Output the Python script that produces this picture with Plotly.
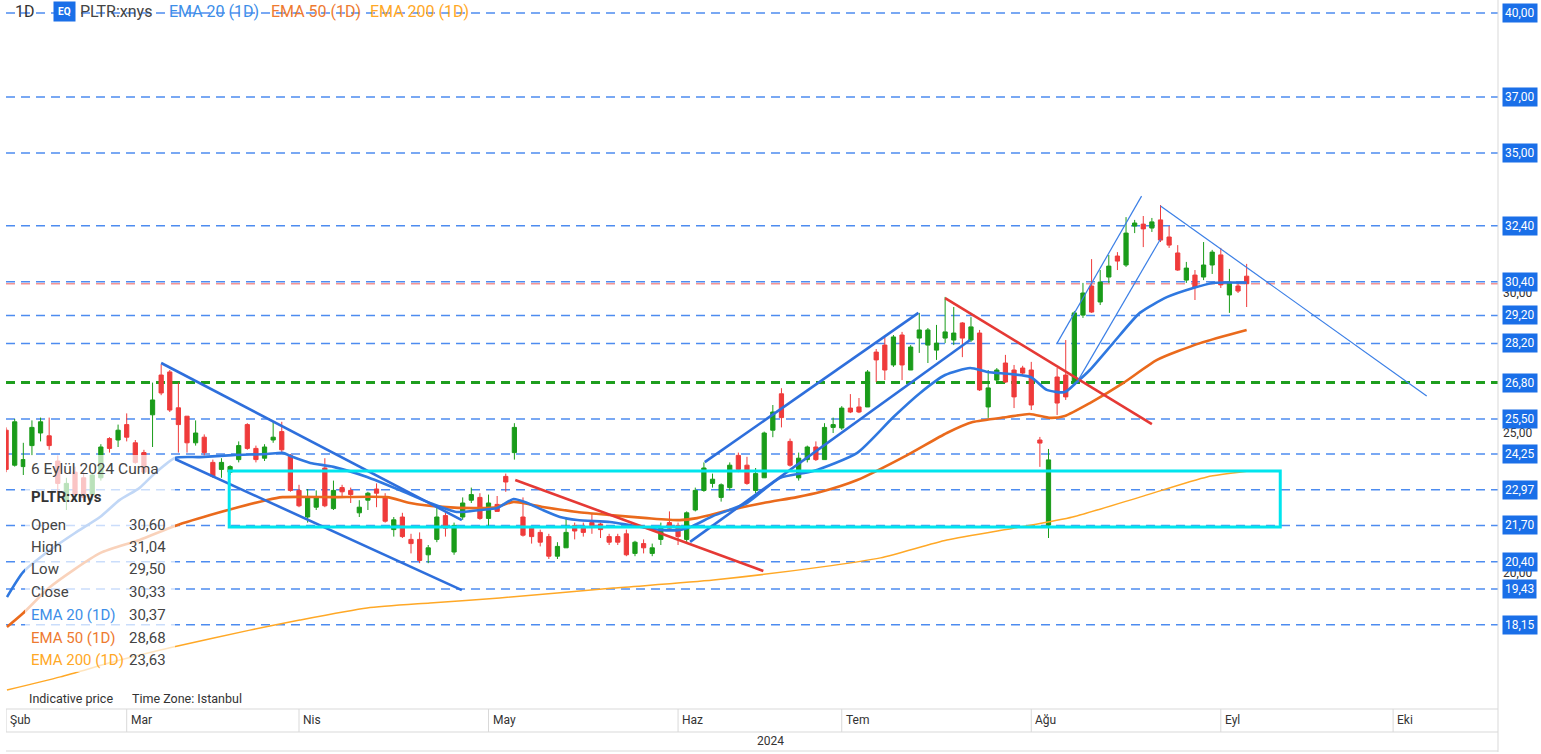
import plotly.graph_objects as go

# ---------------- data ----------------
dates = [
    "2024-02-09", "2024-02-12", "2024-02-13", "2024-02-14", "2024-02-15", "2024-02-16", "2024-02-20",
    "2024-02-21", "2024-02-22", "2024-02-23", "2024-02-26", "2024-02-27", "2024-02-28", "2024-02-29",
    "2024-03-01", "2024-03-04", "2024-03-05", "2024-03-06", "2024-03-07", "2024-03-08", "2024-03-11",
    "2024-03-12", "2024-03-13", "2024-03-14", "2024-03-15", "2024-03-18", "2024-03-19", "2024-03-20",
    "2024-03-21", "2024-03-22", "2024-03-25", "2024-03-26", "2024-03-27", "2024-03-28",
    "2024-04-01", "2024-04-02", "2024-04-03", "2024-04-04", "2024-04-05", "2024-04-08", "2024-04-09",
    "2024-04-10", "2024-04-11", "2024-04-12", "2024-04-15", "2024-04-16", "2024-04-17", "2024-04-18",
    "2024-04-19", "2024-04-22", "2024-04-23", "2024-04-24", "2024-04-25", "2024-04-26", "2024-04-29",
    "2024-04-30",
    "2024-05-01", "2024-05-02", "2024-05-03", "2024-05-06", "2024-05-07", "2024-05-08", "2024-05-09",
    "2024-05-10", "2024-05-13", "2024-05-14", "2024-05-15", "2024-05-16", "2024-05-17", "2024-05-20",
    "2024-05-21", "2024-05-22", "2024-05-23", "2024-05-24", "2024-05-28", "2024-05-29", "2024-05-30",
    "2024-05-31",
    "2024-06-03", "2024-06-04", "2024-06-05", "2024-06-06", "2024-06-07", "2024-06-10", "2024-06-11",
    "2024-06-12", "2024-06-13", "2024-06-14", "2024-06-17", "2024-06-18", "2024-06-20", "2024-06-21",
    "2024-06-24", "2024-06-25", "2024-06-26", "2024-06-27", "2024-06-28",
    "2024-07-01", "2024-07-02", "2024-07-03", "2024-07-05", "2024-07-08", "2024-07-09", "2024-07-10",
    "2024-07-11", "2024-07-12", "2024-07-15", "2024-07-16", "2024-07-17", "2024-07-18", "2024-07-19",
    "2024-07-22", "2024-07-23", "2024-07-24", "2024-07-25", "2024-07-26", "2024-07-29", "2024-07-30",
    "2024-07-31",
    "2024-08-01", "2024-08-02", "2024-08-05", "2024-08-06", "2024-08-07", "2024-08-08", "2024-08-09",
    "2024-08-12", "2024-08-13", "2024-08-14", "2024-08-15", "2024-08-16", "2024-08-19", "2024-08-20",
    "2024-08-21", "2024-08-22", "2024-08-23", "2024-08-26", "2024-08-27", "2024-08-28", "2024-08-29",
    "2024-08-30",
    "2024-09-03", "2024-09-04", "2024-09-05", "2024-09-06",
]

opens = [
    25.10, 23.85, 23.80, 24.55, 25.00, 24.90, 24.00, 22.60, 23.60, 23.40, 22.80, 23.40, 24.80, 24.75,
    25.30, 24.65, 24.30, 25.65, 27.07, 27.18, 25.90, 25.60, 24.65, 24.85, 23.95, 23.70, 23.60, 24.05,
    25.30, 24.45, 24.10, 24.75, 25.05, 24.20,
    22.95, 22.00, 22.35, 23.75, 22.30, 23.05, 22.95, 22.15, 22.60, 23.00, 22.70, 21.55, 22.00, 21.20,
    21.20, 20.65, 21.20, 22.05, 20.75, 22.00, 22.60, 22.70,
    21.95, 22.45, 23.45, 24.30, 22.00, 21.60, 21.45, 21.30, 20.60, 20.90, 21.70, 21.60, 21.80, 21.75,
    21.30, 21.30, 21.40, 20.70, 21.05, 20.70, 21.20, 21.80,
    21.70, 21.20, 22.25, 22.95, 23.20, 22.70, 23.05, 24.20, 23.85, 22.95, 23.40, 25.10, 26.40, 24.70,
    23.40, 24.05, 24.50, 24.05, 25.20,
    25.18, 25.89, 25.93, 25.93, 27.89, 28.14, 27.43, 28.50, 27.25, 28.39, 28.14, 27.96, 28.39, 28.32,
    28.93, 28.32, 28.57, 25.93, 26.89, 27.50, 27.25, 27.32,
    27.25, 24.75, 21.71, 27.00, 27.07, 26.82, 29.21, 30.25, 29.68, 30.57, 31.32, 31.00, 32.39, 32.46,
    32.32, 32.61, 32.00, 31.43, 30.46, 30.64, 30.57, 31.00,
    31.36, 29.93, 30.25, 30.60,
]

highs = [
    25.20, 25.50, 24.65, 25.45, 25.55, 25.55, 24.20, 23.40, 23.80, 23.60, 23.60, 24.60, 24.85, 25.30,
    25.70, 24.75, 24.40, 26.80, 27.45, 27.25, 26.80, 25.60, 25.45, 24.95, 24.05, 24.10, 23.85, 24.70,
    25.35, 24.55, 24.60, 25.40, 25.40, 24.25,
    23.15, 23.00, 22.95, 24.10, 23.30, 23.15, 23.05, 22.60, 22.90, 23.20, 22.85, 22.00, 22.15, 21.40,
    21.45, 21.00, 22.35, 22.15, 21.80, 22.70, 23.05, 22.85,
    22.80, 22.75, 23.55, 25.35, 22.70, 21.65, 21.55, 21.40, 21.10, 22.00, 21.80, 21.80, 22.15, 21.80,
    21.40, 21.40, 21.55, 21.15, 21.20, 21.05, 21.80, 22.20,
    21.80, 22.20, 23.05, 23.95, 23.55, 23.20, 23.95, 24.30, 24.15, 23.75, 25.05, 26.00, 26.60, 24.80,
    24.30, 24.55, 24.70, 25.35, 25.55,
    25.96, 26.39, 26.25, 27.25, 28.00, 28.46, 28.50, 28.61, 28.14, 29.29, 28.75, 28.86, 29.86, 29.50,
    28.96, 29.14, 28.68, 27.25, 27.32, 27.79, 27.43, 27.40,
    27.54, 24.86, 24.43, 27.32, 28.32, 29.36, 30.36, 31.21, 30.82, 31.36, 31.46, 32.71, 32.61, 32.75,
    32.68, 33.14, 32.39, 31.71, 31.11, 30.82, 31.82, 31.54,
    31.61, 30.86, 30.36, 31.04,
]

lows = [
    23.60, 23.80, 23.50, 24.20, 24.70, 24.40, 22.90, 22.25, 22.60, 22.60, 22.60, 23.30, 24.30, 24.50,
    24.70, 23.90, 23.55, 24.50, 26.35, 25.75, 24.30, 24.30, 24.55, 24.20, 23.40, 23.40, 23.50, 23.95,
    24.40, 23.95, 24.00, 24.65, 24.30, 22.90,
    22.35, 21.80, 22.25, 22.35, 22.25, 22.70, 22.50, 22.00, 22.25, 22.35, 21.80, 21.30, 21.25, 20.70,
    20.35, 20.35, 21.10, 21.30, 20.65, 21.90, 22.50, 21.90,
    21.65, 22.20, 22.90, 24.05, 21.30, 21.05, 20.95, 20.50, 20.50, 20.90, 21.20, 21.30, 21.40, 21.25,
    21.00, 21.00, 20.60, 20.60, 20.70, 20.60, 21.00, 21.55,
    21.00, 21.10, 22.20, 22.90, 23.05, 22.55, 22.95, 23.60, 23.15, 22.85, 23.40, 24.85, 25.20, 23.80,
    23.30, 23.95, 24.00, 24.05, 25.00,
    25.11, 25.71, 25.71, 25.93, 26.82, 26.89, 27.36, 26.89, 27.25, 27.86, 27.50, 27.61, 28.21, 28.14,
    27.71, 28.25, 26.50, 25.54, 26.82, 26.79, 25.89, 27.05,
    25.82, 23.79, 21.25, 25.64, 26.18, 26.75, 29.11, 29.29, 29.57, 30.36, 30.82, 30.93, 32.14, 31.64,
    32.18, 31.82, 31.61, 30.79, 30.36, 29.75, 30.46, 30.68,
    30.18, 29.29, 30.00, 29.50,
]

closes = [
    23.70, 25.40, 24.05, 25.20, 25.40, 24.55, 23.20, 23.20, 22.80, 22.70, 23.50, 24.50, 24.45, 25.10,
    24.85, 23.95, 23.60, 26.18, 26.43, 25.82, 25.30, 24.65, 25.00, 24.30, 23.45, 23.95, 23.80, 24.55,
    24.45, 24.05, 24.50, 24.85, 24.40, 22.95,
    22.40, 22.70, 22.70, 22.40, 22.95, 22.90, 22.80, 22.35, 22.85, 22.85, 21.85, 21.90, 21.30, 21.05,
    20.45, 20.90, 22.00, 21.60, 21.70, 22.50, 22.80, 21.95,
    22.50, 22.20, 23.25, 25.20, 21.35, 21.30, 21.10, 20.60, 20.95, 21.45, 21.50, 21.45, 21.65, 21.55,
    21.10, 21.10, 20.65, 21.10, 20.90, 20.90, 21.60, 21.60,
    21.30, 22.15, 22.95, 23.75, 23.35, 23.15, 23.85, 23.70, 23.20, 23.55, 25.00, 25.75, 25.55, 23.85,
    24.10, 24.50, 24.05, 25.20, 25.30,
    25.89, 25.75, 25.75, 27.18, 27.61, 27.25, 28.43, 27.43, 28.07, 28.68, 28.68, 28.21, 28.61, 28.57,
    28.39, 28.79, 26.54, 26.61, 27.25, 26.82, 26.29, 27.14,
    26.00, 24.64, 24.04, 26.07, 26.29, 29.29, 30.00, 29.32, 30.39, 30.96, 31.14, 32.14, 32.50, 32.29,
    32.54, 31.89, 31.71, 30.82, 30.89, 30.21, 31.00, 31.46,
    30.29, 30.39, 30.07, 30.33,
]

# trading-day index relative to 1 March 2024 (first candle = 9 Feb = -14)
first_index = -14

# EMA readings (trading-day index, price)
ema20_x = [-13.9, -12.0, -8.9, -6.0, -3.1, -0.8, 1.5, 3.3, 5.6, 8.5, 12.3, 16.3, 18.1, 19.3, 21.3,
           24.0, 27.9, 31.7, 35.2, 38.3, 41.0, 43.0, 44.9, 46.5, 48.3, 50.3, 52.3, 56.1, 58.4, 61.9,
           64.2, 65.7, 68.1, 72.0, 75.8, 79.7, 84.8, 89.0, 92.1, 95.0, 97.9, 99.9, 104.9, 106.8,
           108.9, 110.3, 111.8, 114.5, 117.6, 120.8, 123.8, 126.1, 130.0]
ema20_y = [19.14, 20.04, 20.82, 21.43, 22.00, 22.61, 23.04, 23.57, 24.11, 24.14, 24.21, 24.25, 24.29,
           24.14, 23.93, 23.79, 23.43, 22.96, 22.50, 22.18, 22.25, 22.32, 22.64, 22.50, 22.25, 22.00,
           21.89, 21.82, 21.71, 21.54, 21.54, 21.68, 22.04, 22.50, 23.39, 23.64, 24.29, 25.57, 26.43,
           27.07, 27.32, 27.18, 27.00, 26.54, 26.46, 26.82, 27.25, 28.21, 29.29, 29.86, 30.18, 30.36,
           30.37]

ema50_x = [-13.9, -12.0, -8.9, -3.1, 1.5, 5.6, 10.5, 16.3, 18.1, 24.0, 30.2, 32.9, 36.7, 41.0, 43.0,
           44.9, 48.3, 52.3, 56.1, 60.4, 64.2, 66.2, 70.0, 73.9, 77.8, 80.5, 84.8, 90.6, 95.2, 98.2,
           102.2, 104.8, 107.2, 108.9, 111.8, 115.7, 119.6, 124.6, 130.0]
ema50_y = [18.07, 18.57, 19.50, 20.71, 21.18, 21.68, 22.14, 22.61, 22.71, 22.71, 22.71, 22.50, 22.36,
           22.32, 22.36, 22.54, 22.36, 22.18, 22.07, 21.96, 21.89, 21.96, 22.25, 22.50, 22.71, 22.89,
           23.32, 24.21, 25.00, 25.39, 25.57, 25.68, 25.54, 25.61, 26.07, 26.79, 27.61, 28.21, 28.68]

ema200_x = [-13.9, -7.7, -0.8, 5.4, 14.3, 20.1, 27.9, 35.2, 43.3, 56.5, 68.1, 80.5, 87.5, 95.2,
            103.7, 109.8, 117.6, 125.4, 130.0]
ema200_y = [15.82, 16.29, 16.89, 17.36, 17.96, 18.32, 18.75, 18.93, 19.11, 19.46, 19.75, 20.21, 20.54,
            21.18, 21.64, 22.00, 22.71, 23.43, 23.63]

# drawn trend lines: (index0, price0, index1, price1)
channel_down_upper = (4.0, 27.50, 38.9, 21.89)
channel_down_lower = (5.6, 24.07, 38.9, 19.39)
resistance_may_jun = (45.1, 23.32, 73.9, 20.07)
channel_up_upper = (67.1, 23.96, 91.9, 29.29)
channel_up_lower = (65.4, 21.11, 97.9, 28.32)
resistance_jul_aug = (95.0, 29.82, 119.0, 25.32)
thin_up_1 = (108.0, 28.21, 117.8, 33.46)
thin_up_2 = (110.4, 26.86, 120.0, 31.93)
thin_down = (120.0, 33.11, 150.9, 26.32)
range_box = (11.9, 21.64, 133.9, 23.64)

# horizontal levels
blue_levels = [40.00, 37.00, 35.00, 32.40, 30.40, 29.20, 28.20, 25.50, 24.25, 22.97, 21.70, 20.40,
               19.43, 18.15]
green_level = 26.80
last_price = 30.33
axis_ticks = [20, 25, 30, 35, 40]

month_labels = ["Şub", "Mar", "Nis", "May", "Haz", "Tem", "Ağu", "Eyl", "Eki"]
month_index = [-14, 0, 20, 42, 64, 83, 105, 127, 147]
year_label = "2024"

info_date = "6 Eylül 2024 Cuma"
info_symbol = "PLTR:xnys"
info_names = ["Open", "High", "Low", "Close", "EMA 20 (1D)", "EMA 50 (1D)", "EMA 200 (1D)"]
info_values = [30.60, 31.04, 29.50, 30.33, 30.37, 28.68, 23.63]

# ---------------- styling / geometry ----------------
W, H = 1541, 754
PL, PR, PT, PB = 6, 1498, 0, 709          # plot area in pixels
X_AT_MARCH1, X_STEP = 126.7, 8.615          # pixel of index 0, pixels per day
Y_TOP_PRICE, PX_PER_UNIT, Y_TOP_PX = 40.0, 28.0, 13.0

x_range = [(PL - X_AT_MARCH1) / X_STEP, (PR - X_AT_MARCH1) / X_STEP]
y_range = [Y_TOP_PRICE - (PB - Y_TOP_PX) / PX_PER_UNIT, Y_TOP_PRICE + (Y_TOP_PX - PT) / PX_PER_UNIT]


def fx(px):
    return (px - PL) / (PR - PL)


def fy(py):
    return (PB - py) / (PB - PT)


FONT = "Roboto, Arial, sans-serif"
GREEN = "#1a9c1a"
RED = "#ef3b3b"
BLUE_LINE = "#2e6fdc"
DASH_BLUE = "#4d8cf0"
LABEL_BLUE = "#1a6fe8"
EMA20_C = "#2f78e0"
EMA50_C = "#ea6a1c"
EMA200_C = "#ffa826"
CYAN = "#00e5ee"


def fmt(v):
    return f"{v:.2f}".replace(".", ",")


x_idx = [first_index + i for i in range(len(dates))]

fig = go.Figure()

fig.add_trace(go.Candlestick(
    x=x_idx, open=opens, high=highs, low=lows, close=closes,
    increasing=dict(line=dict(color=GREEN, width=1), fillcolor=GREEN),
    decreasing=dict(line=dict(color=RED, width=1), fillcolor=RED),
    whiskerwidth=0, showlegend=False, hoverinfo="skip",
))

for xs, ys, col, w in [(ema200_x, ema200_y, EMA200_C, 1.5),
                       (ema50_x, ema50_y, EMA50_C, 2.6),
                       (ema20_x, ema20_y, EMA20_C, 2.6)]:
    fig.add_trace(go.Scatter(x=xs, y=ys, mode="lines",
                             line=dict(color=col, width=w, shape="spline", smoothing=0.6),
                             showlegend=False, hoverinfo="skip"))

shapes = []
# horizontal dashed levels
for lv in blue_levels:
    shapes.append(dict(type="line", xref="paper", yref="y", x0=0, x1=1, y0=lv, y1=lv,
                       line=dict(color=DASH_BLUE, width=1.5, dash="9px,6px"), layer="below"))
shapes.append(dict(type="line", xref="paper", yref="y", x0=0, x1=1, y0=green_level, y1=green_level,
                   line=dict(color="#1e9e1e", width=3, dash="9px,6px"), layer="below"))
shapes.append(dict(type="line", xref="paper", yref="y", x0=0, x1=1, y0=last_price, y1=last_price,
                   line=dict(color="rgba(235,90,90,0.65)", width=1.5, dash="9px,6px"), layer="below"))

# trend lines
for seg, col, w in [(channel_down_upper, BLUE_LINE, 2.6), (channel_down_lower, BLUE_LINE, 2.6),
                    (channel_up_upper, BLUE_LINE, 2.6), (channel_up_lower, BLUE_LINE, 2.6),
                    (resistance_may_jun, "#e53935", 2.6), (resistance_jul_aug, "#e53935", 2.6),
                    (thin_up_1, "#3b7fe6", 1.2), (thin_up_2, "#3b7fe6", 1.2), (thin_down, "#3b7fe6", 1.2)]:
    shapes.append(dict(type="line", xref="x", yref="y", x0=seg[0], y0=seg[1], x1=seg[2], y1=seg[3],
                       line=dict(color=col, width=w), layer="above"))

shapes.append(dict(type="rect", xref="x", yref="y", x0=range_box[0], y0=range_box[1],
                   x1=range_box[2], y1=range_box[3], line=dict(color=CYAN, width=3), layer="above"))

# info panel fading background
shapes.append(dict(type="rect", xref="paper", yref="paper", x0=fx(25), x1=fx(175), y0=fy(672), y1=fy(455),
                   fillcolor="rgba(255,255,255,0.7)", line=dict(width=0), layer="above"))
shapes.append(dict(type="rect", xref="paper", yref="paper", x0=fx(24), x1=fx(248), y0=fy(708), y1=fy(689),
                   fillcolor="rgba(255,255,255,0.8)", line=dict(width=0), layer="above"))

# axis frame lines
AX_GRAY = "#d9d9d9"
shapes.append(dict(type="line", xref="paper", yref="paper", x0=1, x1=1, y0=fy(752), y1=1,
                   line=dict(color=AX_GRAY, width=1)))
for yy in [709, 732, 751]:
    shapes.append(dict(type="line", xref="paper", yref="paper", x0=0, x1=1, y0=fy(yy), y1=fy(yy),
                       line=dict(color=AX_GRAY, width=1)))
for mi in month_index:
    shapes.append(dict(type="line", xref="x", yref="paper", x0=mi, x1=mi, y0=fy(732), y1=fy(709),
                       line=dict(color=AX_GRAY, width=1)))

annotations = []
# month labels
for lab, mi in zip(month_labels, month_index):
    annotations.append(dict(x=mi, y=fy(720), xref="x", yref="paper", text=lab, showarrow=False,
                            xanchor="left", yanchor="middle", xshift=2,
                            font=dict(family=FONT, size=12, color="#333")))
annotations.append(dict(x=fx(770), y=fy(741), xref="paper", yref="paper", text=year_label,
                        showarrow=False, xanchor="center", yanchor="middle",
                        font=dict(family=FONT, size=12, color="#333")))

# right price labels
for lv in blue_levels + [green_level]:
    annotations.append(dict(x=1, y=lv, xref="paper", yref="y", text=fmt(lv), showarrow=False,
                            xanchor="left", yanchor="middle", xshift=4,
                            bgcolor=LABEL_BLUE, borderpad=2,
                            font=dict(family=FONT, size=12, color="white")))

# top legend
legend_items = [(13, "1D", "#333"), (78, "PLTR:xnys", "#444"), (167, "EMA 20 (1D)", "#3d8ee8"),
                (269, "EMA 50 (1D)", "#ee7a30"), (368, "EMA 200 (1D)", "#ffa826")]
for px_, txt, col in legend_items:
    annotations.append(dict(x=fx(px_), y=fy(12), xref="paper", yref="paper", text=txt, showarrow=False,
                            xanchor="left", yanchor="middle",
                            font=dict(family=FONT, size=16, color=col)))
annotations.append(dict(x=fx(53), y=fy(12), xref="paper", yref="paper", text="<b>EQ</b>", showarrow=False,
                        xanchor="left", yanchor="middle", bgcolor=LABEL_BLUE, borderpad=4,
                        font=dict(family=FONT, size=10, color="white")))

# info panel
annotations.append(dict(x=fx(29), y=fy(469), xref="paper", yref="paper", text=info_date, showarrow=False,
                        xanchor="left", yanchor="middle", font=dict(family=FONT, size=15.5, color="#444")))
annotations.append(dict(x=fx(29), y=fy(497), xref="paper", yref="paper", text="<b>" + info_symbol + "</b>",
                        showarrow=False, xanchor="left", yanchor="middle",
                        font=dict(family=FONT, size=15, color="#333")))
name_colors = ["#444", "#444", "#444", "#444", "#3d8ee8", "#ee7a30", "#ffa826"]
row_y = [525, 547, 569, 592, 615, 638, 660]
for nm, val, col, ry in zip(info_names, info_values, name_colors, row_y):
    annotations.append(dict(x=fx(29), y=fy(ry), xref="paper", yref="paper", text=nm, showarrow=False,
                            xanchor="left", yanchor="middle", font=dict(family=FONT, size=15, color=col)))
    annotations.append(dict(x=fx(168), y=fy(ry), xref="paper", yref="paper", text=fmt(val), showarrow=False,
                            xanchor="right", yanchor="middle", font=dict(family=FONT, size=15, color="#444")))
annotations.append(dict(x=fx(27), y=fy(698), xref="paper", yref="paper", text="Indicative price",
                        showarrow=False, xanchor="left", yanchor="middle",
                        font=dict(family=FONT, size=12.5, color="#333")))
annotations.append(dict(x=fx(130), y=fy(698), xref="paper", yref="paper", text="Time Zone: Istanbul",
                        showarrow=False, xanchor="left", yanchor="middle",
                        font=dict(family=FONT, size=12.5, color="#333")))

fig.update_layout(
    width=W, height=H,
    margin=dict(l=PL, r=W - PR, t=PT, b=H - PB),
    paper_bgcolor="white", plot_bgcolor="white",
    shapes=shapes, annotations=annotations,
    showlegend=False,
    xaxis=dict(range=x_range, showgrid=False, zeroline=False, showticklabels=False,
               rangeslider=dict(visible=False), fixedrange=True),
    yaxis=dict(range=y_range, side="right", showgrid=False, zeroline=False,
               tickvals=axis_ticks, ticktext=[fmt(v) for v in axis_ticks],
               tickfont=dict(family=FONT, size=12, color="#333"), ticks="", ticklabelstandoff=4,
               fixedrange=True),
    font=dict(family=FONT),
)

fig.write_html("out.html", config={"displayModeBar": False},
               post_script="document.body.style.margin='0';document.body.style.overflow='hidden';")
